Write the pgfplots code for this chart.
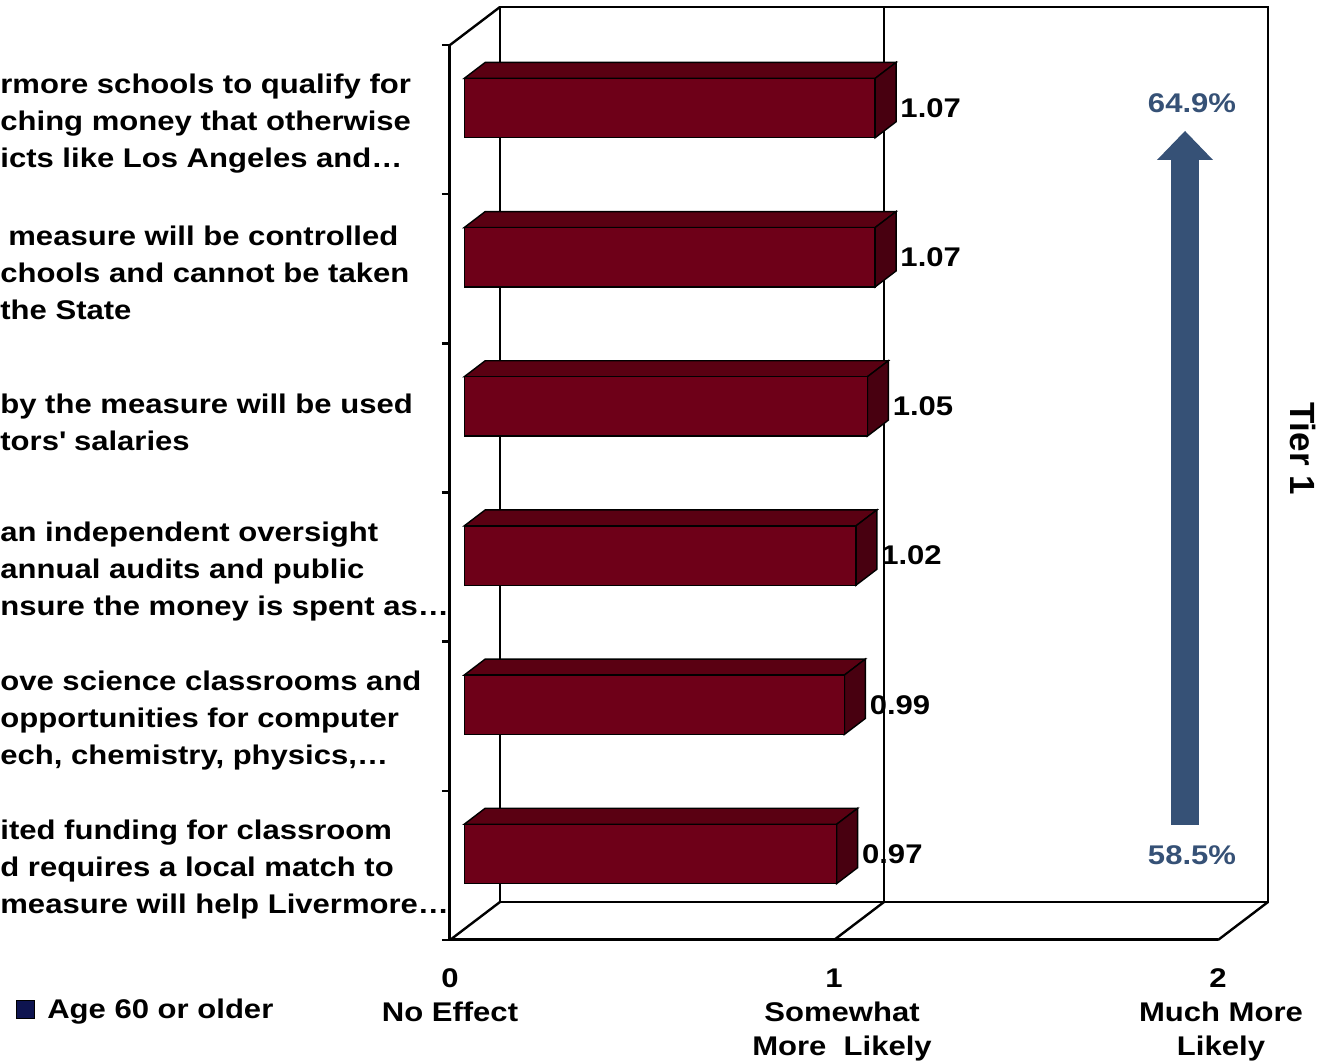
\documentclass[border=0pt]{standalone}
\usepackage{fontspec}
\setmainfont{Liberation Sans}[FakeStretch=1.15]
\newfontfamily\tierfont{Liberation Sans}
\usepackage{pgfplots}
\pgfplotsset{compat=1.18}

\definecolor{barfront}{RGB}{110,0,24}
\definecolor{bartop}{RGB}{90,0,18}
\definecolor{barside}{RGB}{72,0,16}
\definecolor{arrowblue}{RGB}{54,81,118}
\definecolor{legendnavy}{RGB}{14,20,80}

\newcommand{\labfont}{\bfseries\fontsize{13.5}{18.5}\selectfont}

\tikzset{
  frame/.style={line width=1.2pt, black},
  barface/.style={draw=black, line width=0.7pt},
  barlabel/.style={anchor=west, inner sep=0pt, xshift=2pt, font=\labfont, text=black},
}

\begin{document}
\begin{tikzpicture}
\begin{axis}[
  scale only axis, width=384pt, height=447.5pt,
  xmin=0, xmax=2, ymin=0, ymax=6,
  clip=false,
  axis x line*=bottom, axis y line*=left,
  axis line style={line width=1.5pt},
  xtick={0,1,2},
  xticklabels={{0\\No Effect},{1\\\hspace*{8pt}Somewhat\\\hspace*{8pt}More~ Likely},{2\\\hspace*{3pt}Much More\\\hspace*{3pt}Likely}},
  xticklabel style={align=center, font=\bfseries\fontsize{13.5}{17}\selectfont, yshift=-11pt},
  x tick style={draw=none},
  ytick={0.5,1.5,2.5,3.5,4.5,5.5},
  yticklabels={
    {ited funding for classroom\\d requires a local match to\\measure will help Livermore…},
    {ove science classrooms and\\opportunities for computer\\ech, chemistry, physics,…},
    {an independent oversight\\annual audits and public\\nsure the money is spent as…},
    {by the measure will be used\\tors\textquotesingle{} salaries},
    {\hspace*{4pt}measure will be controlled\\chools and cannot be taken\\the State},
    {rmore schools to qualify for\\ching money that otherwise\\icts like Los Angeles and…}},
  yticklabel style={anchor=west, align=left, inner sep=0pt, xshift=-225pt, yshift=-2pt, font=\labfont},
  major tick length=0pt,
  minor ytick={0,1,2,3,4,5,6},
  minor tick length=4pt,
  y tick style={line width=1.2pt, black},
  tick align=outside,
  legend style={at={(-0.573,-0.078)}, anchor=west, draw=none, fill=none,
    font=\labfont, legend cell align=left},
  legend image code/.code={\draw[#1] (0pt,-4.5pt) rectangle (9pt,4.5pt);},
]
\addlegendimage{fill=legendnavy, draw=black, line width=0.5pt}
\addlegendentry{\hspace*{4pt}Age 60 or older}

% walls and floor
\draw[frame] (axis cs:0.1302,0.2547) rectangle (axis cs:2.1302,6.2547);
\draw[frame, line width=1pt] (axis cs:1.1302,0.2547) -- (axis cs:1.1302,6.2547);
\draw[frame] (axis cs:0,6) -- (axis cs:0.1302,6.2547);
\draw[frame] (axis cs:0,0) -- (axis cs:0.1302,0.2547);
\draw[frame] (axis cs:1,0) -- (axis cs:1.1302,0.2547);
\draw[frame] (axis cs:2,0) -- (axis cs:2.1302,0.2547);

% bars (category k, mean score v)
\foreach \k/\v in {1/0.97,2/0.99,3/1.02,4/1.05,5/1.07,6/1.07}{
  \pgfmathsetmacro{\xa}{0.037}
  \pgfmathsetmacro{\xb}{0.037+\v}
  \pgfmathsetmacro{\xc}{\xb+0.0547}
  \pgfmathsetmacro{\xd}{\xa+0.0547}
  \pgfmathsetmacro{\ym}{\k-0.5+0.077}
  \pgfmathsetmacro{\ya}{\ym-0.199}
  \pgfmathsetmacro{\yb}{\ym+0.199}
  \pgfmathsetmacro{\yc}{\ya+0.1073}
  \pgfmathsetmacro{\yd}{\yb+0.1073}
  \edef\tmp{
    \noexpand\addplot[forget plot, barface, fill=bartop] coordinates {(\xa,\yb) (\xb,\yb) (\xc,\yd) (\xd,\yd)} -- cycle;
    \noexpand\addplot[forget plot, barface, fill=barside] coordinates {(\xb,\ya) (\xc,\yc) (\xc,\yd) (\xb,\yb)} -- cycle;
    \noexpand\addplot[forget plot, barface, fill=barfront] coordinates {(\xa,\ya) (\xb,\ya) (\xb,\yb) (\xa,\yb)} -- cycle;
    \noexpand\addplot[forget plot, draw=none, mark=none, point meta=explicit symbolic,
      nodes near coords, every node near coord/.append style={barlabel}] coordinates {(\xc,\ym) [\v]};
  }
  \tmp
}

% tier arrow
\fill[arrowblue] (axis cs:1.8776,0.7709) -- (axis cs:1.9505,0.7709) -- (axis cs:1.9505,5.2291)
  -- (axis cs:1.9870,5.2291) -- (axis cs:1.9141,5.4235) -- (axis cs:1.8411,5.2291)
  -- (axis cs:1.8776,5.2291) -- cycle;
\node[text=arrowblue, font=\labfont] at (axis cs:1.9323,5.608) {64.9\%};
\node[text=arrowblue, font=\labfont] at (axis cs:1.9323,0.5698) {58.5\%};
\node[rotate=-90, font=\tierfont\bfseries\fontsize{17.5}{20}\selectfont] at (axis cs:2.2214,3.295) {Tier 1};

\coordinate (bbsw) at (axis cs:-1.171875,-0.8179);
\coordinate (bbne) at (axis cs:2.28125,6.3017);
\end{axis}
\pgfresetboundingbox
\useasboundingbox (bbsw) rectangle (bbne);
\end{tikzpicture}
\end{document}
